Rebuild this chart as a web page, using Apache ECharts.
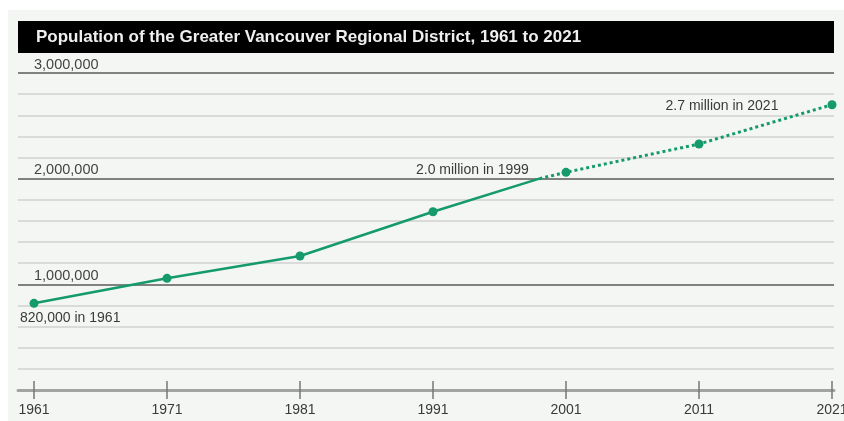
<!DOCTYPE html>
<html>
<head>
<meta charset="utf-8">
<title>Population of the Greater Vancouver Regional District, 1961 to 2021</title>
<script src="https://cdn.jsdelivr.net/npm/echarts@6/dist/echarts.min.js"></script>
<style>
  html, body { margin: 0; padding: 0; background: #ffffff; }
  #chart { width: 844px; height: 421px; }
</style>
</head>
<body>
<div id="chart"></div>
<script>
// Census counts (solid line)
const censusYears = [1961, 1971, 1981, 1991];
const censusPop = [820000, 1057000, 1268000, 1687000];

// Point where the population passes two million
const milestoneYear = 1999;
const milestonePop = 2000000;

// Later years (dotted line)
const laterYears = [2001, 2011, 2021];
const laterPop = [2060000, 2328000, 2700000];

// Axis ticks
const tickYears = [1961, 1971, 1981, 1991, 2001, 2011, 2021];
const popTicks = [0, 1000000, 2000000, 3000000];

const baseYear = tickYears[0];
const lastYear = tickYears[tickYears.length - 1];
const GREEN = '#149a6c';
const TEXT = '#3a3a3a';
const FONT = '"Liberation Sans", Arial, sans-serif';

const chart = echarts.init(document.getElementById('chart'), null, { renderer: 'canvas' });

const labelStyle = { show: true, color: TEXT, fontSize: 14, fontFamily: FONT, position: 'inside' };

const solidData = censusYears.map((y, i) => {
  const item = { value: [y - baseYear, censusPop[i]] };
  if (i === 0) {
    item.label = Object.assign({}, labelStyle, {
      align: 'left', offset: [-14, 15],
      formatter: () => censusPop[0].toLocaleString('en-US') + ' in ' + censusYears[0]
    });
  }
  return item;
});
// the crossing point carries its label but no visible marker
solidData.push({
  value: [milestoneYear - baseYear, milestonePop],
  symbolSize: 0.1,
  label: Object.assign({}, labelStyle, {
    align: 'center', offset: [-67, -9],
    formatter: () => (milestonePop / 1e6).toFixed(1) + ' million in ' + milestoneYear
  })
});

const dottedData = [{ value: [milestoneYear - baseYear, milestonePop], symbolSize: 0.1 }]
  .concat(laterYears.map((y, i) => {
    const item = { value: [y - baseYear, laterPop[i]] };
    if (i === laterYears.length - 1) {
      item.label = Object.assign({}, labelStyle, {
        align: 'center', offset: [-110, 1],
        formatter: () => (laterPop[i] / 1e6).toFixed(1) + ' million in ' + y
      });
    }
    return item;
  }));

const yMax = popTicks[popTicks.length - 1];
const yStep = popTicks[1] - popTicks[0];

const option = {
  backgroundColor: '#ffffff',
  animation: false,
  graphic: [
    { type: 'rect', shape: { x: 8, y: 10, width: 836, height: 411 }, style: { fill: '#f4f6f4' }, z: -10 },
    { type: 'rect', shape: { x: 18, y: 21, width: 816, height: 32 }, style: { fill: '#000000' }, z: 10 },
    { type: 'text', x: 36, y: 37, z: 11,
      style: { text: 'Population of the Greater Vancouver Regional District, 1961 to 2021',
               fill: '#efefef', font: 'bold 17px "Liberation Sans", Arial, sans-serif',
               textVerticalAlign: 'middle' } }
  ],
  grid: [
    { left: 18, right: 10, top: 73, bottom: 31, outerBoundsMode: 'none', containLabel: false },
    { left: 34, right: 12, top: 73, bottom: 31, outerBoundsMode: 'none', containLabel: false }
  ],
  xAxis: [
    { gridIndex: 0, type: 'value', min: 0, max: 1,
      axisLine: { show: true, lineStyle: { color: '#a3a3a3', width: 3 } },
      axisTick: { show: false }, axisLabel: { show: false }, splitLine: { show: false } },
    { gridIndex: 1, type: 'value', min: 0, max: lastYear - baseYear, interval: 10,
      offset: -9,
      axisLine: { show: false },
      axisTick: { show: true, length: 18, lineStyle: { color: '#777', width: 1.5 } },
      axisLabel: { show: true, margin: 22, color: TEXT, fontSize: 14, fontFamily: FONT,
                   formatter: v => String(v + baseYear) },
      splitLine: { show: false } }
  ],
  yAxis: [
    { gridIndex: 0, type: 'value', min: 0, max: yMax, interval: yStep,
      axisLine: { show: false }, axisTick: { show: false },
      axisLabel: { show: true, inside: true, margin: 16, color: '#444', fontSize: 14.5,
                   fontFamily: FONT, verticalAlign: 'bottom', padding: [0, 0, 1, 0],
                   formatter: v => v === 0 ? '' : v.toLocaleString('en-US') },
      splitLine: { show: true, showMinLine: false, lineStyle: { color: '#5a5a5a', width: 1.6 } },
      minorTick: { show: false, splitNumber: 5 },
      minorSplitLine: { show: true, lineStyle: { color: '#cfd1cf', width: 1.5 } } },
    { gridIndex: 1, type: 'value', min: 0, max: yMax, show: false }
  ],
  series: [
    { type: 'line', xAxisIndex: 1, yAxisIndex: 1, data: solidData,
      symbol: 'circle', symbolSize: 9, showAllSymbol: true,
      lineStyle: { color: GREEN, width: 2.5 }, itemStyle: { color: GREEN }, z: 5 },
    { type: 'line', xAxisIndex: 1, yAxisIndex: 1, data: dottedData,
      symbol: 'circle', symbolSize: 9, showAllSymbol: true,
      lineStyle: { color: GREEN, width: 3, type: [3, 3] }, itemStyle: { color: GREEN }, z: 5 }
  ]
};

chart.setOption(option);
</script>
</body>
</html>
